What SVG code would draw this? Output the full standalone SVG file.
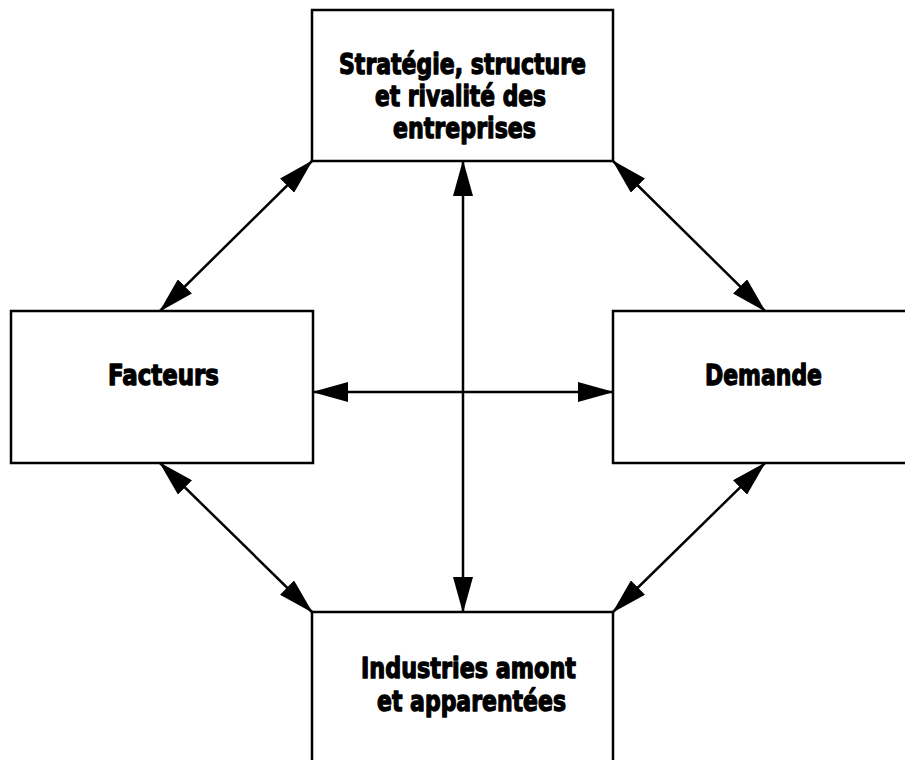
<svg xmlns="http://www.w3.org/2000/svg" width="905" height="760" viewBox="0 0 905 760">
  <style>
    .box { fill: #ffffff; stroke: #000000; stroke-width: 2.5; }
    .lbl { font-family: "DejaVu Sans", "Liberation Sans", sans-serif; font-weight: bold; font-size: 29px; fill: #000000; stroke: #000000; stroke-width: 1.4; stroke-linejoin: round; text-anchor: middle; }
    .con { stroke: #000000; stroke-width: 2.5; fill: none; marker-start: url(#arr); marker-end: url(#arr); }
  </style>
  <defs>
    <marker id="arr" viewBox="0 0 36 20" refX="35" refY="10" markerWidth="36" markerHeight="20" markerUnits="userSpaceOnUse" orient="auto-start-reverse">
      <path d="M0,0 L36,10 L0,20 z" fill="#000000"/>
    </marker>
  </defs>
  <rect width="905" height="760" fill="#ffffff"/>
  <g id="connectors">
    <line class="con" x1="312" y1="161" x2="160" y2="311"/>
    <line class="con" x1="613" y1="161" x2="765" y2="311"/>
    <line class="con" x1="160" y1="463" x2="312" y2="612"/>
    <line class="con" x1="765" y1="463" x2="613" y2="612"/>
    <line class="con" x1="463" y1="161" x2="463" y2="612"/>
    <line class="con" x1="313" y1="392" x2="613" y2="392"/>
  </g>
  <g id="strategie">
    <rect class="box" x="312" y="10" width="301" height="151"/>
    <text class="lbl" x="462.5" y="74" textLength="247" lengthAdjust="spacingAndGlyphs">Stratégie, structure</text>
    <text class="lbl" x="460.5" y="106" textLength="171" lengthAdjust="spacingAndGlyphs">et rivalité des</text>
    <text class="lbl" x="464.5" y="138" textLength="143" lengthAdjust="spacingAndGlyphs">entreprises</text>
  </g>
  <g id="facteurs">
    <rect class="box" x="11" y="311" width="302" height="152"/>
    <text class="lbl" x="163.5" y="385" textLength="111" lengthAdjust="spacingAndGlyphs">Facteurs</text>
  </g>
  <g id="demande">
    <rect class="box" x="613" y="311" width="302" height="152"/>
    <text class="lbl" x="763.5" y="385" textLength="117" lengthAdjust="spacingAndGlyphs">Demande</text>
  </g>
  <g id="industries">
    <rect class="box" x="312" y="612" width="301" height="152"/>
    <text class="lbl" x="468.5" y="678" textLength="215" lengthAdjust="spacingAndGlyphs">Industries amont</text>
    <text class="lbl" x="471.5" y="711" textLength="189" lengthAdjust="spacingAndGlyphs">et apparentées</text>
  </g>
</svg>
